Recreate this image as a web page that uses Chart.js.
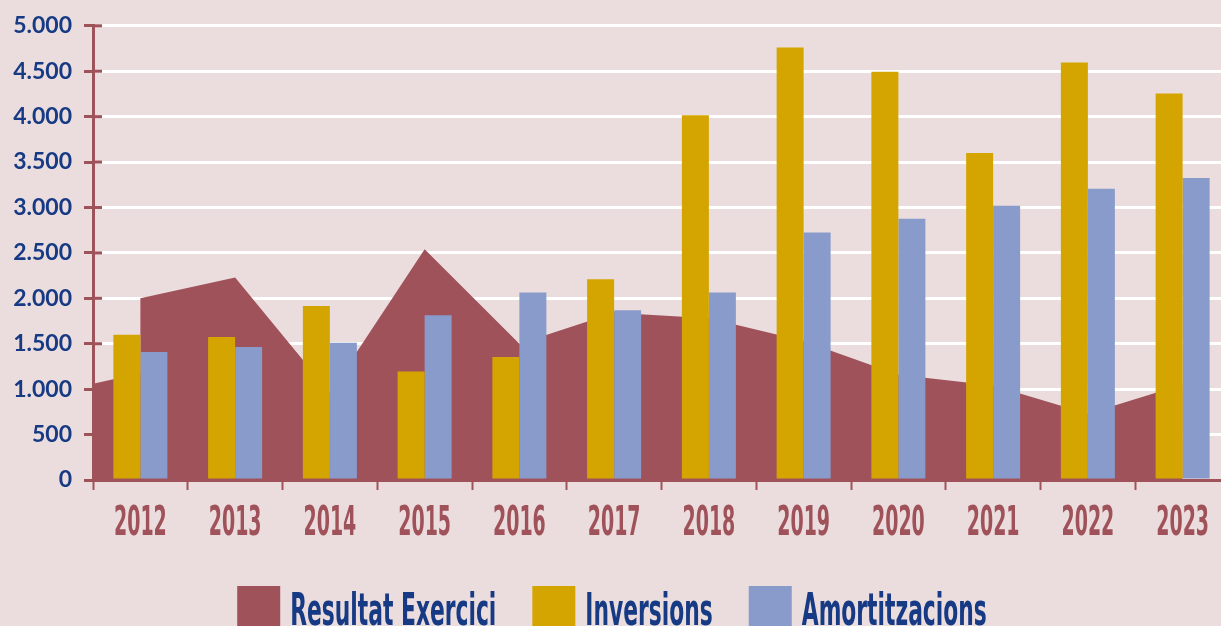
<!DOCTYPE html>
<html>
<head>
<meta charset="utf-8">
<script src="https://cdn.jsdelivr.net/npm/chart.js@4"></script>
<style>
  html, body { margin: 0; padding: 0; background: #ebdddd; overflow: hidden; }
</style>
</head>
<body>
<canvas id="grafic" width="1230" height="626"></canvas>
<script>
// Dades (milers d'euros)
const anys = [2012, 2013, 2014, 2015, 2016, 2017, 2018, 2019, 2020, 2021, 2022, 2023];
const inversions = [1600, 1575, 1915, 1195, 1355, 2210, 4015, 4760, 4495, 3600, 4595, 4255];
const amortitzacions = [1410, 1465, 1510, 1815, 2065, 1870, 2065, 2725, 2875, 3020, 3205, 3325];

// Resultat Exercici (area): x = any, centre de cada columna
const resultatX = [2011.5, 2012, 2012, 2013, 2014, 2015, 2016, 2017, 2018, 2019, 2020, 2021, 2022, 2023];
const resultat = [1060, 1175, 2000, 2230, 960, 2540, 1500, 1840, 1780, 1530, 1160, 1040, 730, 1050];

const nomsSeries = ['Resultat Exercici', 'Inversions', 'Amortitzacions'];

const vermell = '#a0525a';
const groc = '#d4a500';
const blau = '#899bcb';
const blauFosc = '#163a84';

// format 5.000
const ambPunts = v => String(v).replace(/\B(?=(\d{3})+(?!\d))/g, '.');

// marques de l'eix Y que travessen l'eix cap a dins
const marquesY = {
  id: 'marquesY',
  beforeDatasetsDraw(chart) {
    const { ctx, chartArea, scales: { y } } = chart;
    ctx.save();
    ctx.strokeStyle = vermell;
    ctx.lineWidth = 3;
    y.ticks.forEach(t => {
      const py = y.getPixelForValue(t.value);
      ctx.beginPath();
      ctx.moveTo(chartArea.left, py);
      ctx.lineTo(chartArea.left + 9, py);
      ctx.stroke();
    });
    ctx.restore();
  }
};

// etiquetes de l'eix X i llegenda en lletra estreta
const lletraEstreta = '"Liberation Sans Narrow", "DejaVu Sans Condensed", sans-serif';
const textEstret = {
  id: 'textEstret',
  afterDraw(chart) {
    const { ctx, chartArea, scales: { x } } = chart;
    ctx.save();

    ctx.font = 'bold 40px ' + lletraEstreta;
    let sx = 0.33 * 40 / ctx.measureText('0').width;
    ctx.fillStyle = vermell;
    ctx.textAlign = 'center';
    anys.forEach(any => {
      ctx.save();
      ctx.translate(x.getPixelForValue(any), chartArea.bottom + 55);
      ctx.scale(sx, 1);
      ctx.fillText(String(any), 0, 0);
      ctx.restore();
    });

    // llegenda
    const colors = [vermell, groc, blau];
    ctx.font = 'bold 44px ' + lletraEstreta;
    sx = 0.345 * 44 / ctx.measureText('0').width;
    const caixa = 43, gap = 10, separacio = 36;
    const amples = nomsSeries.map(n => caixa + gap + ctx.measureText(n).width * sx);
    const total = amples.reduce((a, b) => a + b, 0) + separacio * (nomsSeries.length - 1);
    let px = chart.width / 2 - total / 2 - 3;
    const top = chartArea.bottom + 106;
    ctx.textAlign = 'left';
    nomsSeries.forEach((nom, i) => {
      ctx.fillStyle = colors[i];
      ctx.fillRect(px, top, caixa, caixa);
      ctx.save();
      ctx.translate(px + caixa + gap, top + 39);
      ctx.scale(sx, 1);
      ctx.fillStyle = blauFosc;
      ctx.fillText(nom, 0, 0);
      ctx.restore();
      px += amples[i] + separacio;
    });
    ctx.restore();
  }
};

const ctx = document.getElementById('grafic').getContext('2d');
const grafic = new Chart(ctx, {
  type: 'bar',
  data: {
    datasets: [
      {
        type: 'line',
        label: nomsSeries[0],
        data: resultatX.map((x, i) => ({ x: x, y: resultat[i] })),
        fill: 'origin',
        backgroundColor: vermell,
        borderWidth: 0,
        pointRadius: 0,
        tension: 0,
        order: 2
      },
      {
        label: nomsSeries[1],
        data: anys.map((a, i) => ({ x: a, y: inversions[i] })),
        backgroundColor: groc,
        order: 1
      },
      {
        label: nomsSeries[2],
        data: anys.map((a, i) => ({ x: a, y: amortitzacions[i] })),
        backgroundColor: blau,
        order: 1
      }
    ]
  },
  options: {
    responsive: false,
    animation: false,
    datasets: {
      bar: {
        categoryPercentage: 0.57,
        barPercentage: 1.0
      }
    },
    layout: {
      padding: { top: 23, right: 0, bottom: 136, left: 0 }
    },
    plugins: {
      legend: { display: false },
      tooltip: { enabled: false }
    },
    scales: {
      x: {
        type: 'linear',
        z: 1,
        min: anys[0] - 0.5,
        max: anys[anys.length - 1] + 0.5,
        offset: false,
        // marques entre columnes
        afterBuildTicks(scale) {
          scale.ticks = anys.map(a => ({ value: a - 0.5 })).concat([{ value: anys[anys.length - 1] + 0.5 }]);
        },
        grid: {
          display: true,
          offset: false,
          drawOnChartArea: false,
          drawTicks: true,
          tickLength: 10,
          tickColor: vermell,
          tickWidth: 2
        },
        border: { color: vermell, width: 3 },
        ticks: { display: false }
      },
      y: {
        min: 0,
        max: 5000,
        afterFit(scale) { scale.width = 93; },
        ticks: {
          stepSize: 500,
          padding: 12,
          color: blauFosc,
          font: { family: 'Lato', size: 23, weight: 'bold' },
          callback: v => ambPunts(v)
        },
        grid: {
          color: '#ffffff',
          lineWidth: 3,
          tickColor: vermell,
          tickLength: 9
        },
        border: { color: vermell, width: 3 }
      }
    }
  },
  plugins: [marquesY, textEstret]
});
</script>
</body>
</html>
